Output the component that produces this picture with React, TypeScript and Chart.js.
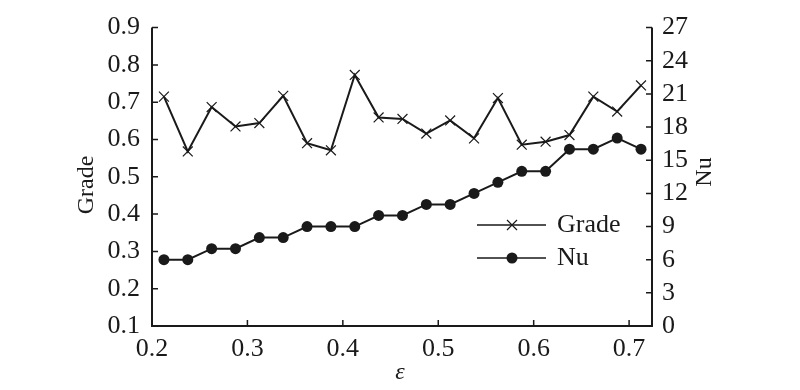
import React, { useEffect, useRef } from "react";
import { Chart, registerables } from "chart.js";

Chart.register(...registerables);

const epsilon = [0.2125, 0.2375, 0.2625, 0.2875, 0.3125, 0.3375, 0.3625, 0.3875, 0.4125, 0.4375, 0.4625, 0.4875, 0.5125, 0.5375, 0.5625, 0.5875, 0.6125, 0.6375, 0.6625, 0.6875, 0.7125];
const grade = [0.715, 0.568, 0.687, 0.635, 0.644, 0.717, 0.59, 0.571, 0.773, 0.659, 0.655, 0.616, 0.651, 0.603, 0.711, 0.586, 0.594, 0.612, 0.715, 0.675, 0.745];
const nu = [6, 6, 7, 7, 8, 8, 9, 9, 9, 10, 10, 11, 11, 12, 13, 14, 14, 16, 16, 17, 16];
const xTicks = [0.2, 0.3, 0.4, 0.5, 0.6, 0.7];
const gradeTicks = [0.1, 0.2, 0.3, 0.4, 0.5, 0.6, 0.7, 0.8, 0.9];
const nuTicks = [0, 3, 6, 9, 12, 15, 18, 21, 24, 27];

const FONT = '"Liberation Serif", "Times New Roman", serif';
const INK = "#1a1a1a";

const decorPlugin = {
  id: "decor",
  afterDraw(chart: any) {
    const ctx = chart.ctx;
    const { left, right, top, bottom } = chart.chartArea;
    const x = chart.scales.x;
    const y = chart.scales.y;
    const y1 = chart.scales.y1;
    ctx.save();
    ctx.strokeStyle = INK;
    ctx.lineWidth = 2;
    ctx.beginPath();
    ctx.moveTo(left, top);
    ctx.lineTo(left, bottom);
    ctx.lineTo(right, bottom);
    ctx.lineTo(right, top);
    ctx.stroke();
    const tl = 6;
    ctx.lineWidth = 1.5;
    ctx.beginPath();
    xTicks.forEach((v) => {
      const px = x.getPixelForValue(v);
      ctx.moveTo(px, bottom);
      ctx.lineTo(px, bottom - tl);
    });
    gradeTicks.forEach((v) => {
      const py = y.getPixelForValue(v);
      ctx.moveTo(left, py);
      ctx.lineTo(left + tl, py);
    });
    nuTicks.forEach((v) => {
      const py = y1.getPixelForValue(v);
      ctx.moveTo(right, py);
      ctx.lineTo(right - tl, py);
    });
    ctx.stroke();

    // axis titles
    ctx.fillStyle = INK;
    ctx.font = `24px ${FONT}`;
    ctx.textAlign = "center";
    ctx.textBaseline = "middle";
    ctx.save();
    ctx.translate(87, 185);
    ctx.rotate(-Math.PI / 2);
    ctx.fillText("Grade", 0, 0);
    ctx.restore();
    ctx.save();
    ctx.translate(705, 172);
    ctx.rotate(-Math.PI / 2);
    ctx.fillText("Nu", 0, 0);
    ctx.restore();
    ctx.font = `italic 24px ${FONT}`;
    ctx.fillText("ε", 400, 373);

    // legend
    const lx0 = 477, lx1 = 546, lmx = 512;
    const gy = 225, ny = 258;
    ctx.lineWidth = 1.5;
    ctx.beginPath();
    ctx.moveTo(lx0, gy);
    ctx.lineTo(lx1, gy);
    ctx.moveTo(lx0, ny);
    ctx.lineTo(lx1, ny);
    ctx.stroke();
    ctx.lineWidth = 1.2;
    ctx.beginPath();
    const r = 5;
    ctx.moveTo(lmx - r, gy - r);
    ctx.lineTo(lmx + r, gy + r);
    ctx.moveTo(lmx - r, gy + r);
    ctx.lineTo(lmx + r, gy - r);
    ctx.stroke();
    ctx.beginPath();
    ctx.arc(lmx, ny, 5.5, 0, Math.PI * 2);
    ctx.fill();
    ctx.font = `26px ${FONT}`;
    ctx.textAlign = "left";
    ctx.fillText("Grade", 557, gy);
    ctx.fillText("Nu", 557, ny);
    ctx.restore();
  },
};

export default function App() {
  const ref = useRef<HTMLCanvasElement | null>(null);
  useEffect(() => {
    if (!ref.current) return;
    const chart = new Chart(ref.current, {
      type: "line",
      data: {
        datasets: [
          {
            label: "Grade",
            data: epsilon.map((e, i) => ({ x: e, y: grade[i] })),
            yAxisID: "y",
            borderColor: INK,
            backgroundColor: INK,
            borderWidth: 2,
            pointStyle: "crossRot",
            pointRadius: 7,
            pointBorderWidth: 1.2,
            pointBorderColor: INK,
            tension: 0,
          },
          {
            label: "Nu",
            data: epsilon.map((e, i) => ({ x: e, y: nu[i] })),
            yAxisID: "y1",
            borderColor: INK,
            backgroundColor: INK,
            borderWidth: 2,
            pointStyle: "circle",
            pointRadius: 5.5,
            pointBorderWidth: 0,
            pointBackgroundColor: INK,
            tension: 0,
          },
        ],
      },
      options: {
        animation: false,
        responsive: false,
        maintainAspectRatio: false,
        layout: { padding: { top: 17, left: 0, right: 0, bottom: 0 } },
        plugins: { legend: { display: false }, tooltip: { enabled: false } },
        scales: {
          x: {
            type: "linear",
            min: 0.2,
            max: 0.724,
            afterBuildTicks: (s: any) => {
              s.ticks = xTicks.map((v) => ({ value: v }));
            },
            afterFit: (s: any) => {
              s.height = 64;
            },
            grid: { display: false, drawTicks: false },
            border: { display: false },
            ticks: {
              color: INK,
              padding: 8,
              autoSkip: false,
              font: { family: FONT, size: 26 },
              maxRotation: 0,
              callback: (v: any) => Number(v).toFixed(1),
            },
          },
          y: {
            type: "linear",
            position: "left",
            min: 0.1,
            max: 0.9,
            afterBuildTicks: (s: any) => {
              s.ticks = gradeTicks.map((v) => ({ value: v }));
            },
            afterFit: (s: any) => {
              s.width = 152;
            },
            grid: { display: false, drawTicks: false },
            border: { display: false },
            ticks: {
              color: INK,
              padding: 12,
              autoSkip: false,
              font: { family: FONT, size: 26 },
              callback: (v: any) => Number(v).toFixed(1),
            },
          },
          y1: {
            type: "linear",
            position: "right",
            min: 0,
            max: 27,
            afterBuildTicks: (s: any) => {
              s.ticks = nuTicks.map((v) => ({ value: v }));
            },
            afterFit: (s: any) => {
              s.width = 148;
            },
            grid: { display: false, drawTicks: false },
            border: { display: false },
            ticks: {
              color: INK,
              padding: 10,
              autoSkip: false,
              font: { family: FONT, size: 26 },
              callback: (v: any) => String(v),
            },
          },
        },
      },
      plugins: [decorPlugin],
    } as any);
    return () => chart.destroy();
  }, []);
  return (
    <div style={{ position: "fixed", left: 0, top: 0, width: 800, height: 390, background: "#fff" }}>
      <canvas ref={ref} width={800} height={390} style={{ width: 800, height: 390, display: "block" }} />
    </div>
  );
}
